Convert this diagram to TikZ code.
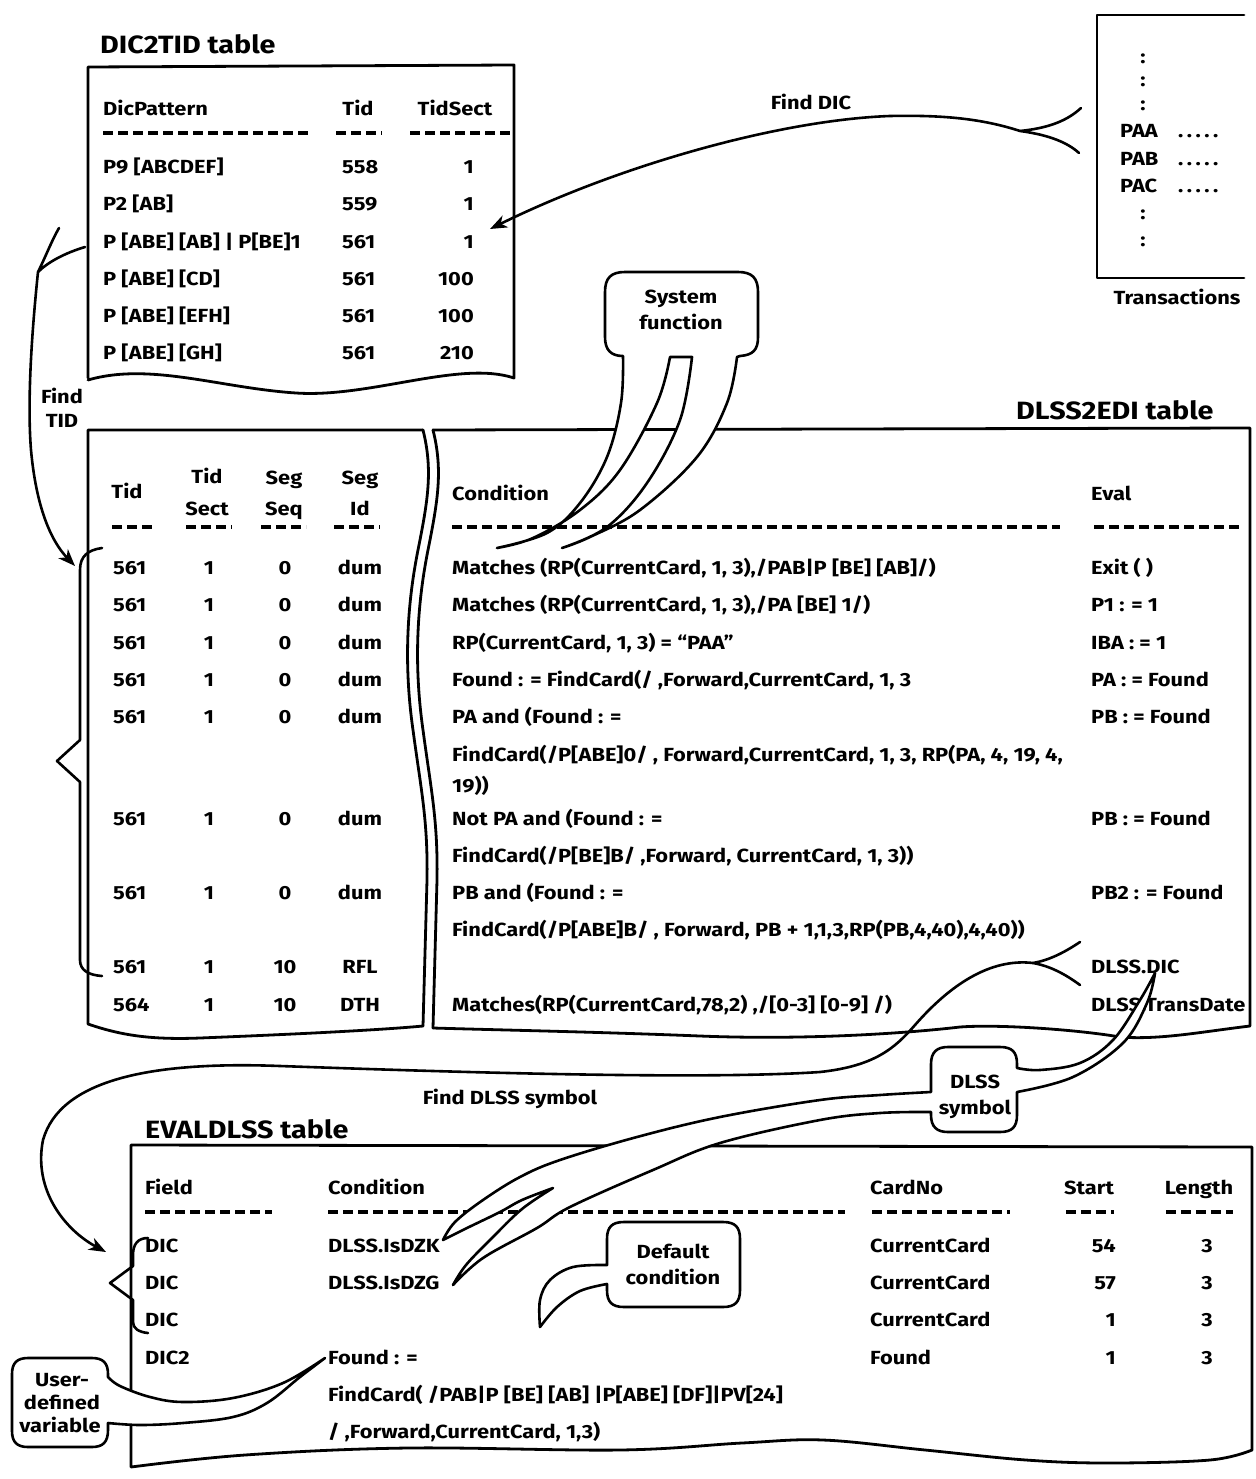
\documentclass[tikz,border=0pt]{standalone}
\usepackage{fontspec}
\setmainfont{Fira Sans}[FakeStretch=1.15]
\usetikzlibrary{arrows.meta}
\newcommand\bodyfont{\fontsize{19}{22}\selectfont\bfseries}
\newcommand\titlefont{\fontsize{25}{29}\selectfont\bfseries}
\newcommand\dotrow{.\hspace{3.5pt}.\hspace{3.5pt}.\hspace{3.5pt}.\hspace{3.5pt}.}
\tikzset{
 x=1pt, y=-1pt,
 txt/.style={inner sep=0pt, font=\bodyfont, text height=13pt, text depth=0pt},
 lt/.style={txt, anchor=west},
 rt/.style={txt, anchor=east},
 ct/.style={txt, anchor=center},
 ttl/.style={inner sep=0pt, font=\titlefont, anchor=west, text height=17pt, text depth=0pt},
 tableline/.style={line width=2.8pt, line join=round, line cap=round},
 conn/.style={line width=2.6pt, line cap=round, line join=round},
 calloutshape/.style={line width=2.6pt, line join=round, fill=white, draw=black},
 dashrule/.style={line width=3.5pt, dash pattern=on 10pt off 5pt},
 arrowed/.style={-{Stealth[length=17pt,width=13pt,inset=5pt]}}
}
\begin{document}
\begin{tikzpicture}
\useasboundingbox (0,0) rectangle (1255,1479);

% ---------------- DIC2TID table ----------------
\node[ttl] (t1) at (100,45) {DIC2TID table};
\draw[tableline] (88,378) -- (88,67) -- (514,65) -- (514,378)
  .. controls (460,360) and (370,398) .. (296,393)
  .. controls (220,388) and (150,362) .. (88,380);
\node[lt] (h1a) at (103,109) {DicPattern};
\node[ct] (h1b) at (358,109) {Tid};
\node[ct] (h1c) at (455,109) {TidSect};
\draw[dashrule] (103,133) -- (310,133);
\draw[dashrule] (336,133) -- (382,133);
\draw[dashrule] (410,133) -- (510,133);
\node[lt] (d1) at (103,167) {P9 [ABCDEF]};
\node[lt] (d2) at (103,204) {P2 [AB]};
\node[lt] (d3) at (103,242) {P [ABE] [AB] | P[BE]1};
\node[lt] (d4) at (103,279) {P [ABE] [CD]};
\node[lt] (d5) at (103,316) {P [ABE] [EFH]};
\node[lt] (d6) at (103,353) {P [ABE] [GH]};
\foreach \y/\t/\s [count=\i] in {167/558/1, 204/559/1, 242/561/1, 279/561/100, 316/561/100, 353/561/210} {
  \node[lt] (dt\i) at (342,\y) {\t};
  \node[rt] (ds\i) at (474,\y) {\s};
}

% ---------------- Transactions ----------------
\draw[tableline] (1244,15) -- (1097,15) -- (1097,278) -- (1244,278);
\foreach \y [count=\i] in {57,80,104,213,240} {
  \node[ct] (col\i) at (1143,\y) {:};
}
\node[lt] (paa) at (1120,131) {PAA};
\node[lt] (pab) at (1120,159) {PAB};
\node[lt] (pac) at (1120,186) {PAC};
\node[lt] (paad) at (1178,131) {\dotrow};
\node[lt] (pabd) at (1178,159) {\dotrow};
\node[lt] (pacd) at (1178,186) {\dotrow};
\node[ct] (trans) at (1177,298) {Transactions};

% ---------------- Tid table (left part) ----------------
\draw[tableline] (423,430) -- (88,430) -- (88,1024)
  .. controls (120,1035) and (150,1040) .. (200,1038)
  .. controls (300,1034) and (380,1030) .. (423,1026);
\draw[tableline] (423,430) .. controls (433,470) and (428,500) .. (418,550)
  .. controls (408,600) and (403,660) .. (413,730)
  .. controls (421,790) and (428,820) .. (427,880) -- (423,1026);
\node[ct] (th1) at (127,492) {Tid};
\node[ct] (th2) at (207,477) {Tid};
\node[ct] (th3) at (207,509) {Sect};
\node[ct] (th4) at (284,478) {Seg};
\node[ct] (th5) at (284,509) {Seq};
\node[ct] (th6) at (360,478) {Seg};
\node[ct] (th7) at (360,509) {Id};
\draw[dashrule] (112,527) -- (156,527);
\draw[dashrule] (186,527) -- (232,527);
\draw[dashrule] (261,527) -- (306,527);
\draw[dashrule] (334,527) -- (380,527);
\foreach \y/\a/\b/\c/\d [count=\i] in {568/561/1/0/dum, 605/561/1/0/dum, 643/561/1/0/dum, 680/561/1/0/dum, 717/561/1/0/dum, 819/561/1/0/dum, 893/561/1/0/dum, 967/561/1/10/RFL, 1005/564/1/10/DTH} {
  \node[lt] (tid\i) at (113,\y) {\a};
  \node[ct] (sect\i) at (209,\y) {\b};
  \node[ct] (seq\i) at (285,\y) {\c};
  \node[ct] (sid\i) at (360,\y) {\d};
}

% ---------------- DLSS2EDI table (right part) ----------------
\node[ttl] (t2) at (1016,411) {DLSS2EDI table};
\draw[tableline] (433,430) -- (1250,428) -- (1250,1026)
  .. controls (1200,1032) and (1160,1040) .. (1120,1037)
  .. controls (1080,1030) and (1000,1024) .. (960,1027)
  .. controls (900,1034) and (800,1040) .. (700,1036)
  .. controls (600,1032) and (500,1030) .. (433,1028);
\draw[tableline] (433,430) .. controls (443,470) and (438,500) .. (428,550)
  .. controls (418,600) and (413,660) .. (423,730)
  .. controls (431,790) and (438,820) .. (437,880) -- (433,1028);
\node[lt] (ch) at (452,494) {Condition};
\node[lt] (eh) at (1091,494) {Eval};
\draw[dashrule] (452,527) -- (1060,527);
\draw[dashrule] (1094,527) -- (1242,527);
\node[lt] (c1) at (452,568) {Matches (RP(CurrentCard, 1, 3),/PAB|P [BE] [AB]/)};
\node[lt] (c2) at (452,605) {Matches (RP(CurrentCard, 1, 3),/PA [BE] 1/)};
\node[lt] (c3) at (452,643) {RP(CurrentCard, 1, 3) = “PAA”};
\node[lt] (c4) at (452,680) {Found : = FindCard(/ ,Forward,CurrentCard, 1, 3};
\node[lt] (c5) at (452,717) {PA and (Found : =};
\node[lt] (c6) at (452,755) {FindCard(/P[ABE]0/ , Forward,CurrentCard, 1, 3, RP(PA, 4, 19, 4,};
\node[lt] (c7) at (452,786) {19))};
\node[lt] (c8) at (452,819) {Not PA and (Found : =};
\node[lt] (c9) at (452,856) {FindCard(/P[BE]B/ ,Forward, CurrentCard, 1, 3))};
\node[lt] (c10) at (452,893) {PB and (Found : =};
\node[lt] (c11) at (452,930) {FindCard(/P[ABE]B/ , Forward, PB + 1,1,3,RP(PB,4,40),4,40))};
\node[lt] (c12) at (452,1005) {Matches(RP(CurrentCard,78,2) ,/[0-3] [0-9] /)};
\node[lt] (e1) at (1091,568) {Exit ( )};
\node[lt] (e2) at (1091,605) {P1 : = 1};
\node[lt] (e3) at (1091,643) {IBA : = 1};
\node[lt] (e4) at (1091,680) {PA : = Found};
\node[lt] (e5) at (1091,717) {PB : = Found};
\node[lt] (e6) at (1091,819) {PB : = Found};
\node[lt] (e7) at (1091,893) {PB2 : = Found};
\node[lt] (e8) at (1091,967) {DLSS.DIC};
\node[lt] (e9) at (1091,1005) {DLSS.TransDate};

% ---------------- EVALDLSS table ----------------
\node[ttl] (t3) at (145,1130) {EVALDLSS table};
\draw[tableline] (131,1467) -- (131,1145) -- (1252,1147) -- (1252,1450)
  -- plot[smooth, tension=0.6] coordinates {(1252,1450) (1210,1460) (1108,1463) (1026,1460) (925,1450) (823,1440) (742,1443) (620,1450) (408,1448) (245,1455) (131,1467)};
\node[lt] (fh) at (145,1188) {Field};
\node[lt] (qh) at (328,1188) {Condition};
\node[lt] (kh) at (870,1188) {CardNo};
\node[ct] (sh) at (1089,1188) {Start};
\node[ct] (lh) at (1199,1188) {Length};
\draw[dashrule] (145,1212) -- (272,1212);
\draw[dashrule] (328,1212) -- (845,1212);
\draw[dashrule] (872,1212) -- (1010,1212);
\draw[dashrule] (1066,1212) -- (1114,1212);
\draw[dashrule] (1166,1212) -- (1233,1212);
\foreach \y/\f/\k/\s/\l [count=\i] in {1246/DIC/CurrentCard/54/3, 1283/DIC/CurrentCard/57/3, 1320/DIC/CurrentCard/1/3, 1358/DIC2/Found/1/3} {
  \node[lt] (ef\i) at (145,\y) {\f};
  \node[lt] (ek\i) at (870,\y) {\k};
  \node[rt] (es\i) at (1116,\y) {\s};
  \node[rt] (el\i) at (1213,\y) {\l};
}
\node[lt] (q1) at (328,1246) {DLSS.IsDZK};
\node[lt] (q2) at (328,1283) {DLSS.IsDZG};
\node[lt] (q4) at (328,1358) {Found : =};
\node[lt] (q5) at (328,1395) {FindCard( /PAB|P [BE] [AB] |P[ABE] [DF]|PV[24]};
\node[lt] (q6) at (328,1432) {/ ,Forward,CurrentCard, 1,3)};

% ---------------- braces ----------------
\draw[conn] (102,548) .. controls (88,550) and (80,556) .. (80,570) -- (80,740) -- (57,761) -- (80,782) -- (80,960) .. controls (80,970) and (88,975) .. (102,976);
\draw[conn] (148,1238) .. controls (138,1238) and (133,1244) .. (133,1255) -- (133,1266) -- (110,1283) -- (133,1300) -- (133,1322) .. controls (133,1328) and (138,1332) .. (148,1333);

% ---------------- callouts ----------------
% System function
\filldraw[calloutshape] (623,356)
  -- plot[smooth, tension=0.6] coordinates {(623,356) (621,403) (607,457) (580,503) (547,533) (497,548)}
  -- plot[smooth, tension=0.6] coordinates {(497,548) (533,538) (580,510) (620,470) (657,403) (670,357)}
  -- (692,357)
  -- plot[smooth, tension=0.6] coordinates {(692,357) (680,420) (647,483) (607,527) (562,548)}
  -- plot[smooth, tension=0.6] coordinates {(562,548) (590,537) (640,510) (697,457) (727,403) (737,357)}
  -- (740,356) .. controls (753,355) and (758,350) .. (758,337) -- (758,292)
  .. controls (758,278) and (752,272) .. (738,272) -- (625,272)
  .. controls (611,272) and (605,278) .. (605,292) -- (605,337)
  .. controls (605,350) and (611,356) .. (623,356) -- cycle;
\node[ct] (sf1) at (681,297) {System};
\node[ct] (sf2) at (681,323) {function};

% DLSS symbol
\filldraw[calloutshape] (931,1092)
  -- plot[smooth, tension=0.6] coordinates {(931,1092) (880,1095) (820,1100) (720,1117) (637,1137) (560,1160) (520,1177) (483,1200) (455,1222) (443,1240)}
  -- plot[smooth, tension=0.6] coordinates {(443,1240) (467,1228) (500,1212) (522,1200) (553,1188)}
  -- plot[smooth, tension=0.6] coordinates {(553,1188) (522,1209) (492,1238) (466,1265) (453,1285)}
  -- plot[smooth, tension=0.6] coordinates {(453,1285) (483,1258) (537,1228) (570,1207) (653,1170) (720,1143) (820,1120) (880,1113) (931,1112)}
  -- (931,1115) .. controls (931,1127) and (937,1132) .. (948,1132) -- (1000,1132)
  .. controls (1012,1132) and (1017,1127) .. (1017,1115) -- (1017,1092)
  -- plot[smooth, tension=0.6] coordinates {(1017,1092) (1073,1077) (1123,1043) (1147,1003) (1155,973)}
  -- plot[smooth, tension=0.6] coordinates {(1155,973) (1140,1000) (1113,1040) (1080,1063) (1040,1070) (1017,1068)}
  -- (1017,1064) .. controls (1017,1052) and (1012,1047) .. (1000,1047) -- (948,1047)
  .. controls (937,1047) and (931,1052) .. (931,1064) -- cycle;
\node[ct] (ds1) at (975,1082) {DLSS};
\node[ct] (ds2) at (975,1108) {symbol};

% Default condition
\filldraw[calloutshape] (607,1265)
  -- plot[smooth, tension=0.6] coordinates {(607,1265) (573,1267) (550,1280) (540,1300) (540,1327)}
  -- plot[smooth, tension=0.6] coordinates {(540,1327) (557,1307) (580,1291) (607,1284)}
  -- (607,1290) .. controls (607,1302) and (612,1307) .. (624,1307) -- (723,1307)
  .. controls (735,1307) and (740,1302) .. (740,1290) -- (740,1239)
  .. controls (740,1227) and (735,1222) .. (723,1222) -- (624,1222)
  .. controls (612,1222) and (607,1227) .. (607,1239) -- cycle;
\node[ct] (dc1) at (673,1252) {Default};
\node[ct] (dc2) at (673,1278) {condition};

% User-defined variable
\filldraw[calloutshape] (108,1377)
  -- plot[smooth, tension=0.6] coordinates {(108,1377) (120,1386) (150,1397) (183,1402) (233,1398) (283,1383) (325,1358)}
  -- plot[smooth, tension=0.6] coordinates {(325,1358) (300,1377) (267,1403) (233,1417) (183,1423) (140,1425) (108,1423)}
  -- (108,1430) .. controls (108,1442) and (103,1447) .. (92,1447) -- (28,1447)
  .. controls (17,1447) and (12,1442) .. (12,1431) -- (12,1374)
  .. controls (12,1363) and (17,1358) .. (28,1358) -- (92,1358)
  .. controls (103,1358) and (108,1363) .. (108,1374) -- cycle;
\node[ct] (uv1) at (62,1380) {User-};
\node[ct] (uv2) at (62,1403) {defined};
\node[ct] (uv3) at (60,1426) {variable};

% ---------------- connectors ----------------
% Find DIC
\coordinate (fdv) at (1020,131);
\coordinate (fda) at (1081,108);
\coordinate (fdb) at (1079,153);
\coordinate (fdt) at (490,229);
\draw[conn] (fda) .. controls (1068,120) and (1050,128) .. (fdv) .. controls (1050,135) and (1068,143) .. (fdb);
\draw[conn, arrowed] (fdv) .. controls (980,118) and (940,115) .. (890,116) .. controls (780,120) and (620,165) .. (fdt);
\node[ct] (lfdic) at (811,103) {Find DIC};

% Find TID
\coordinate (ftv) at (38,272);
\coordinate (fta) at (85,247);
\coordinate (ftb) at (59,228);
\coordinate (ftt) at (75,566);
\draw[conn] (fta) .. controls (65,253) and (48,262) .. (ftv) .. controls (45,258) and (52,240) .. (ftb);
\draw[conn, arrowed] (ftv) .. controls (32,330) and (27,400) .. (31,450) .. controls (36,505) and (50,540) .. (ftt);
\node[ct] (lft1) at (62,397) {Find};
\node[ct] (lft2) at (62,421) {TID};

% Find DLSS symbol
\coordinate (fsv) at (1033,963);
\coordinate (fsa) at (1080,942);
\coordinate (fsb) at (1080,985);
\coordinate (fst) at (106,1252);
\draw[conn] (fsa) .. controls (1065,952) and (1050,960) .. (fsv) .. controls (1050,966) and (1065,974) .. (fsb);
\draw[conn, arrowed] (fsv) .. controls (990,958) and (950,985) .. (915,1025) .. controls (895,1048) and (875,1066) .. (820,1072) .. controls (700,1080) and (450,1072) .. (280,1066) .. controls (150,1061) and (60,1080) .. (43,1140) .. controls (33,1190) and (65,1230) .. (fst);
\node[ct] (lfds) at (510,1098) {Find DLSS symbol};

\end{tikzpicture}
\end{document}
